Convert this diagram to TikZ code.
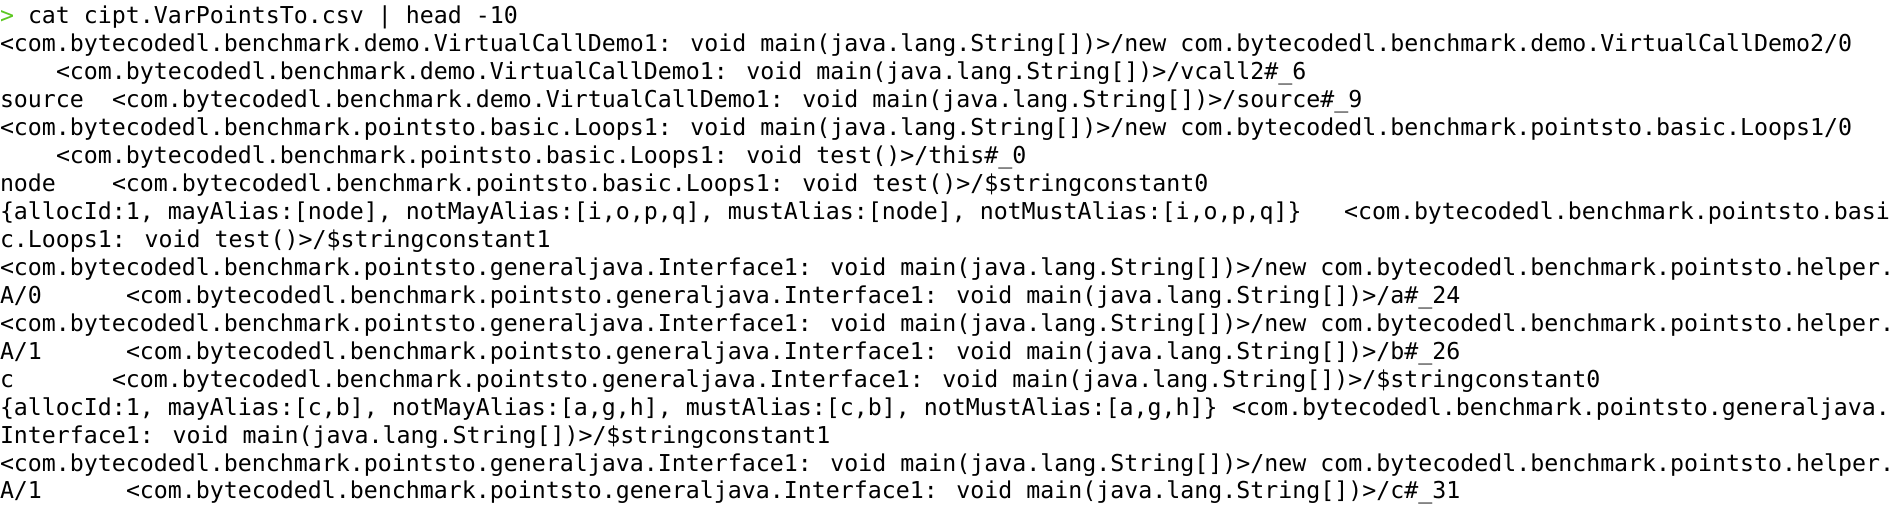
\documentclass[tikz,border=0pt]{standalone}
\usepackage{fontspec}
\newfontfamily\termfont{DejaVu Sans Mono}
\definecolor{promptgreen}{RGB}{92,200,32}
\tikzset{
  termline/.style={anchor=base west, inner sep=0pt, outer sep=0pt, text=black,
    font=\termfont\fontsize{23.25}{27.94}\selectfont},
  promptsign/.style={termline, text=promptgreen}
}
\begin{document}
\begin{tikzpicture}[x=14pt, y=-27.94pt]
\useasboundingbox[fill=white] (0,0) rectangle (135.2857,18.4681);
\begin{scope}[shift={(0,0.859)}]
  % command
  \node[promptsign] (prompt) at (0,0) {>};
  \node[termline] (cmd) at (2,0) {cat cipt.VarPointsTo.csv | head -10};
  % VirtualCallDemo1
  \node[termline] (r1) at (0,1) {<com.bytecodedl.benchmark.demo.VirtualCallDemo1: void main(java.lang.String[])>/new com.bytecodedl.benchmark.demo.VirtualCallDemo2/0};
  \node[termline] (r2) at (4,2) {<com.bytecodedl.benchmark.demo.VirtualCallDemo1: void main(java.lang.String[])>/vcall2\#\_6};
  \node[termline] (r3a) at (0,3) {source};
  \node[termline] (r3b) at (8,3) {<com.bytecodedl.benchmark.demo.VirtualCallDemo1: void main(java.lang.String[])>/source\#\_9};
  % Loops1
  \node[termline] (r4) at (0,4) {<com.bytecodedl.benchmark.pointsto.basic.Loops1: void main(java.lang.String[])>/new com.bytecodedl.benchmark.pointsto.basic.Loops1/0};
  \node[termline] (r5) at (4,5) {<com.bytecodedl.benchmark.pointsto.basic.Loops1: void test()>/this\#\_0};
  \node[termline] (r6a) at (0,6) {node};
  \node[termline] (r6b) at (8,6) {<com.bytecodedl.benchmark.pointsto.basic.Loops1: void test()>/\$stringconstant0};
  \node[termline] (r7a) at (0,7) {\{allocId:1, mayAlias:[node], notMayAlias:[i,o,p,q], mustAlias:[node], notMustAlias:[i,o,p,q]\}};
  \node[termline] (r7b) at (96,7) {<com.bytecodedl.benchmark.pointsto.basi};
  \node[termline] (r8) at (0,8) {c.Loops1: void test()>/\$stringconstant1};
  % Interface1
  \node[termline] (r9) at (0,9) {<com.bytecodedl.benchmark.pointsto.generaljava.Interface1: void main(java.lang.String[])>/new com.bytecodedl.benchmark.pointsto.helper.};
  \node[termline] (r10a) at (0,10) {A/0};
  \node[termline] (r10b) at (9,10) {<com.bytecodedl.benchmark.pointsto.generaljava.Interface1: void main(java.lang.String[])>/a\#\_24};
  \node[termline] (r11) at (0,11) {<com.bytecodedl.benchmark.pointsto.generaljava.Interface1: void main(java.lang.String[])>/new com.bytecodedl.benchmark.pointsto.helper.};
  \node[termline] (r12a) at (0,12) {A/1};
  \node[termline] (r12b) at (9,12) {<com.bytecodedl.benchmark.pointsto.generaljava.Interface1: void main(java.lang.String[])>/b\#\_26};
  \node[termline] (r13a) at (0,13) {c};
  \node[termline] (r13b) at (8,13) {<com.bytecodedl.benchmark.pointsto.generaljava.Interface1: void main(java.lang.String[])>/\$stringconstant0};
  \node[termline] (r14a) at (0,14) {\{allocId:1, mayAlias:[c,b], notMayAlias:[a,g,h], mustAlias:[c,b], notMustAlias:[a,g,h]\}};
  \node[termline] (r14b) at (88,14) {<com.bytecodedl.benchmark.pointsto.generaljava.};
  \node[termline] (r15) at (0,15) {Interface1: void main(java.lang.String[])>/\$stringconstant1};
  \node[termline] (r16) at (0,16) {<com.bytecodedl.benchmark.pointsto.generaljava.Interface1: void main(java.lang.String[])>/new com.bytecodedl.benchmark.pointsto.helper.};
  \node[termline] (r17a) at (0,17) {A/1};
  \node[termline] (r17b) at (9,17) {<com.bytecodedl.benchmark.pointsto.generaljava.Interface1: void main(java.lang.String[])>/c\#\_31};
\end{scope}
\end{tikzpicture}
\end{document}
